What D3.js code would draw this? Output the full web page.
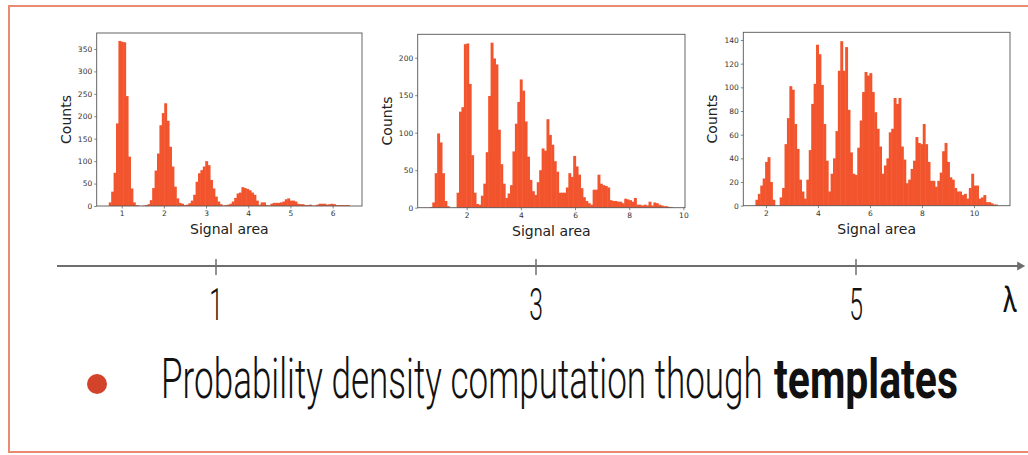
<!DOCTYPE html>
<html><head><meta charset="utf-8">
<script src="https://cdn.jsdelivr.net/npm/d3@7"></script>
<style>html,body{margin:0;padding:0;background:#fff;} svg{display:block}</style>
</head><body>
<svg id="c" width="1028" height="455"></svg>
<script>
// ---- data ----
const counts1 = [8,32,74,184,368,366,365,245,110,39, 8,2,1,0,1,2,4,13,40,79,
  117,180,207,229,190,132,88,43,17,7, 5,2,3,6,12,25,54,73,80,88,
  100,91,58,39,21,10,4,1,2,3, 5,10,18,28,30,42,40,38,35,30,
  25,12,3,8,8,2,1,5,7,7, 7,8,10,15,17,12,12,10,5,4,
  4,2,2,3,1,1,3,5,5,5, 3,4,5,4,2,2,2,2,2,2];
const range1 = [0.694, 6.41];
const xTicks1 = [1,2,3,4,5,6];
const yTicks1 = [0,50,100,150,200,250,300,350];

const counts2 = [1,7,46,99,87,46,9,2,0,0, 0,20,128,134,218,219,165,70,20,5,
  4,16,32,74,149,220,199,191,104,58, 32,13,19,30,75,112,141,171,156,115,
  68,37,22,17,34,50,79,76,118,97, 84,62,48,20,20,20,27,46,41,69,
  55,44,26,14,9,6,4,24,24,44, 32,30,29,27,10,9,9,8,8,6,
  12,11,10,8,13,4,4,3,4,3, 8,3,7,6,4,3,2,2,1,1];
const range2 = [0.64, 9.61];
const xTicks2 = [2,4,6,8,10];
const yTicks2 = [0,50,100,150,200];

const counts3 = [5,10,17,23,37,41,20,5,0,0, 7,15,52,74,101,98,69,48,22,12,
  6,22,47,86,103,136,128,102,69,38, 12,27,40,63,114,139,114,134,81,45,
  27,26,49,72,96,113,110,112,96,79, 65,50,27,34,40,62,65,91,86,91,
  50,39,19,22,31,38,58,53,52,69, 52,37,21,21,16,21,28,46,53,37,
  24,22,15,12,12,9,10,6,15,27, 17,17,6,7,9,3,3,2,1,1];
const range3 = [1.593, 10.92];
const xTicks3 = [2,4,6,8,10];
const yTicks3 = [0,20,40,60,80,100,120,140];

const lambdaTicks = [1,3,5];
const xLabel = "Signal area";
const yLabel = "Counts";
const lambdaLabel = "λ";
const bulletText = "Probability density computation though";
const boldText = "templates";

// ---- layout ----
const panels = [
  {counts: counts1, range: range1, xTicks: xTicks1, yTicks: yTicks1, box: [96.7,33,362,206], xDom: [0.408,6.696], yMax: 385.6},
  {counts: counts2, range: range2, xTicks: xTicks2, yTicks: yTicks2, box: [417.7,34.3,685,207.7], xDom: [0.191,10.06], yMax: 231.2},
  {counts: counts3, range: range3, xTicks: xTicks3, yTicks: yTicks3, box: [743.3,32.3,1010,205.7], xDom: [1.127,11.385], yMax: 146.5}
];
const barColor = "#f2542d";
const svg = d3.select("#c");

// outer frame
svg.append("rect").attr("x",9).attr("y",6).attr("width",1040).attr("height",446)
  .attr("fill","none").attr("stroke","#ea8a73").attr("stroke-width",2);

panels.forEach(p => {
  const [L,T,R,B] = p.box;
  const x = d3.scaleLinear().domain(p.xDom).range([L,R]);
  const y = d3.scaleLinear().domain([0,p.yMax]).range([B,T]);
  const n = p.counts.length;
  const w = (p.range[1]-p.range[0])/n;
  const g = svg.append("g");
  g.selectAll("rect.bar").data(p.counts).join("rect").attr("class","bar")
    .attr("x",(d,i)=>x(p.range[0]+i*w))
    .attr("width",(d,i)=>x(p.range[0]+(i+1)*w)-x(p.range[0]+i*w)+(i<n-1?0.5:0))
    .attr("y",d=>y(d)).attr("height",d=>B-y(d))
    .attr("fill",barColor);
  const ax = g.append("g").attr("transform",`translate(0,${B})`)
    .call(d3.axisBottom(x).tickValues(p.xTicks).tickSize(2.5).tickPadding(2).tickFormat(d3.format("d")));
  const ay = g.append("g").attr("transform",`translate(${L},0)`)
    .call(d3.axisLeft(y).tickValues(p.yTicks).tickSize(2.5).tickPadding(2).tickFormat(d3.format("d")));
  [ax,ay].forEach(a=>{
    a.select(".domain").remove();
    a.selectAll("line").attr("stroke","#555").attr("stroke-width",0.7);
    a.selectAll("text").attr("font-family","DejaVu Sans").attr("font-size","7.5px").attr("fill","#333");
  });
  g.append("rect").attr("x",L).attr("y",T).attr("width",R-L).attr("height",B-T)
    .attr("fill","none").attr("stroke","#555").attr("stroke-width",0.9);
  g.append("text").attr("x",(L+R)/2).attr("y",B+28).attr("text-anchor","middle")
    .attr("font-family","DejaVu Sans").attr("font-size","14px").attr("fill","#222").text(xLabel);
  g.append("text").attr("transform",`translate(${L-26},${(T+B)/2}) rotate(-90)`).attr("text-anchor","middle")
    .attr("font-family","DejaVu Sans").attr("font-size","14px").attr("fill","#222").text(yLabel);
});

// lambda axis
const lx = d3.scaleLinear().domain([0,6]).range([56,1016]);
const axisColor = "#6e6e6e";
svg.append("line").attr("x1",lx(0)+1).attr("x2",lx(6.02)).attr("y1",266).attr("y2",266)
  .attr("stroke",axisColor).attr("stroke-width",2);
svg.append("path").attr("d",`M${lx(6.02)-2},261.5 L${lx(6.02)+6},266 L${lx(6.02)-2},270.5 Z`).attr("fill",axisColor);
svg.selectAll("line.lt").data(lambdaTicks).join("line").attr("class","lt")
  .attr("x1",d=>lx(d)).attr("x2",d=>lx(d)).attr("y1",259).attr("y2",275)
  .attr("stroke",axisColor).attr("stroke-width",1.5);
svg.selectAll("text.lt").data(lambdaTicks).join("text").attr("class","lt")
  .attr("transform",d=>`translate(${lx(d)},320) scale(0.55,1)`).attr("text-anchor","middle")
  .attr("font-family","Roboto").attr("font-weight",300).attr("font-size","45px").attr("fill","#111").text(d=>d);
svg.append("text").attr("transform","translate(1010,312) scale(0.75,1)").attr("text-anchor","middle")
  .attr("font-family","Roboto").attr("font-weight",400).attr("font-size","35px").attr("fill","#111").text(lambdaLabel);

// bullet
svg.append("circle").attr("cx",97).attr("cy",384).attr("r",10).attr("fill","#d2432a");
function squeezed(txt, x0, x1, weight){
  const t = svg.append("text").attr("x",0).attr("y",0)
    .attr("font-family","Roboto").attr("font-weight",weight).attr("font-size","56px").attr("fill","#111").text(txt);
  const natural = t.node().getComputedTextLength();
  const s = (x1-x0)/natural;
  t.attr("transform",`translate(${x0},398) scale(${s},1)`);
}
squeezed(bulletText, 161, 763, 300);
squeezed(boldText, 774, 958, 700);
</script>
</body></html>
